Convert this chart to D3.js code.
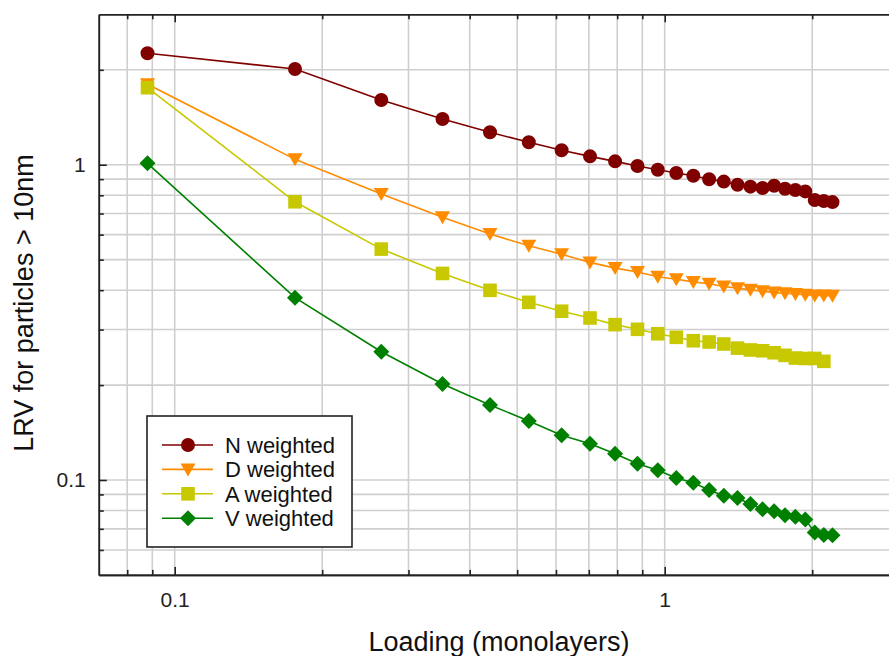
<!DOCTYPE html>
<html><head><meta charset="utf-8">
<script src="https://cdn.jsdelivr.net/npm/d3@7"></script>
<style>body{margin:0;background:#fff}svg{display:block;font-family:"Liberation Sans",Arial,sans-serif}</style>
</head><body><svg id="c" width="889" height="656"></svg>
<script>
const loading = [0.088,0.176,0.264,0.352,0.44,0.528,0.616,0.704,0.792,0.88,0.968,1.056,1.144,1.232,1.32,1.408,1.496,1.584,1.672,1.76,1.848,1.936,2.024,2.112,2.2];
const nWeighted = [2.256,2.012,1.604,1.396,1.267,1.178,1.111,1.063,1.025,0.991,0.964,0.941,0.923,0.899,0.884,0.864,0.852,0.844,0.858,0.839,0.831,0.823,0.773,0.767,0.761];
const dWeighted = [1.80,1.040,0.807,0.681,0.603,0.553,0.520,0.490,0.470,0.457,0.441,0.433,0.425,0.419,0.411,0.406,0.401,0.397,0.393,0.391,0.389,0.387,0.385,0.385,0.384];
const aWeighted = [1.755,0.763,0.540,0.452,0.3995,0.366,0.343,0.3265,0.311,0.3006,0.291,0.2835,0.2765,0.274,0.270,0.262,0.2585,0.257,0.2533,0.2485,0.2437,0.2429,0.243,0.2379];
const vWeighted = [1.010,0.3787,0.2552,0.2016,0.1729,0.1539,0.1386,0.1303,0.1212,0.1126,0.1073,0.1015,0.0980,0.0929,0.0892,0.0877,0.0839,0.0807,0.0796,0.0773,0.0765,0.0750,0.0681,0.0669,0.0668];
const seriesNames = ["N weighted","D weighted","A weighted","V weighted"];
const seriesColors = ["#800000","#ff8c00","#c8c800","#008000"];
const xMajorTicks = [0.1, 1];
const xMinorTicks = [0.08,0.09,0.2,0.3,0.4,0.5,0.6,0.7,0.8,0.9,2];
const yMajorTicks = [0.1, 1];
const yMinorTicks = [0.06,0.07,0.08,0.09,0.2,0.3,0.4,0.5,0.6,0.7,0.8,0.9,2];
const xLabel = "Loading (monolayers)";
const yLabel = "LRV for particles > 10nm";

const svg = d3.select("#c");
const x = d3.scaleLog().domain([0.07, 3]).range([98.8, 898.5]);
const y = d3.scaleLog().domain([0.05, 3]).range([574.9, 14.3]);
const [x0,x1] = x.range(), [y0,y1] = y.range();

// grid
const grid = svg.append("g").attr("stroke","#cfcfcf").attr("stroke-width",1.6);
xMajorTicks.concat(xMinorTicks).forEach(t=>{
  grid.append("line").attr("x1",x(t)).attr("x2",x(t)).attr("y1",y0).attr("y2",y1);
});
yMajorTicks.concat(yMinorTicks).forEach(t=>{
  grid.append("line").attr("y1",y(t)).attr("y2",y(t)).attr("x1",x0).attr("x2",x1);
});

// axes
function styleAxis(g){
  g.attr("font-size",null).attr("font-family",null);
  g.select(".domain").attr("stroke","#222").attr("stroke-width",1.6);
  g.selectAll(".tick line").attr("stroke","#222").attr("stroke-width",1.6);
  g.selectAll(".tick text").style("font-size","21px").attr("fill","#222")
    .style("font-family","'Liberation Sans', Arial, sans-serif"); }
const fmt = d => d>=1 ? d3.format("d")(d) : String(d);
svg.append("g").attr("transform",`translate(0,${y0})`)
  .call(d3.axisBottom(x).tickValues(xMajorTicks).tickSize(-8).tickSizeOuter(0).tickPadding(17).tickFormat(fmt)).call(styleAxis);
svg.append("g").attr("transform",`translate(0,${y0})`)
  .call(d3.axisBottom(x).tickValues(xMinorTicks).tickSize(-5).tickSizeOuter(0).tickFormat("")).call(styleAxis);
svg.append("g").attr("transform",`translate(0,${y1})`)
  .call(d3.axisTop(x).tickValues(xMajorTicks).tickSize(-8).tickSizeOuter(0).tickFormat("")).call(styleAxis);
svg.append("g").attr("transform",`translate(0,${y1})`)
  .call(d3.axisTop(x).tickValues(xMinorTicks).tickSize(-5).tickSizeOuter(0).tickFormat("")).call(styleAxis);
svg.append("g").attr("transform",`translate(${x0},0)`)
  .call(d3.axisLeft(y).tickValues(yMajorTicks).tickSize(-8).tickSizeOuter(0).tickPadding(13).tickFormat(fmt)).call(styleAxis);
svg.append("g").attr("transform",`translate(${x0},0)`)
  .call(d3.axisLeft(y).tickValues(yMinorTicks).tickSize(-5).tickSizeOuter(0).tickFormat("")).call(styleAxis);
svg.append("g").attr("transform",`translate(${x1},0)`)
  .call(d3.axisRight(y).tickValues([]).tickSizeOuter(0)).call(styleAxis);

// axis titles
svg.append("text").attr("x",499).attr("y",651).attr("text-anchor","middle")
  .attr("font-size",27).attr("fill","#111").text(xLabel);
svg.append("text").attr("transform","translate(33,303) rotate(-90)").attr("text-anchor","middle")
  .attr("font-size",27).attr("fill","#111").text(yLabel);

// markers
function markerPath(i){
  if(i===0) return d3.symbol(d3.symbolCircle, 154)();
  if(i===1) return "M-7.5,-6L7.5,-6L0,7Z";
  if(i===2) return "M-6.8,-6.8H6.8V6.8H-6.8Z";
  return "M0,-8L8,0L0,8L-8,0Z";
}
const allSeries = [nWeighted,dWeighted,aWeighted,vWeighted];
const line = d3.line().x(d=>x(d[0])).y(d=>y(d[1]));
allSeries.forEach((vals,i)=>{
  const pts = vals.map((v,j)=>[loading[j],v]);
  const g = svg.append("g");
  g.append("path").attr("d",line(pts)).attr("fill","none").attr("stroke",seriesColors[i]).attr("stroke-width",1.6);
  g.selectAll("path.m").data(pts).join("path").attr("class","m")
    .attr("transform",d=>`translate(${x(d[0])},${y(d[1])})`)
    .attr("d",markerPath(i)).attr("fill",seriesColors[i]);
});

// legend
const lg = svg.append("g");
lg.append("rect").attr("x",147).attr("y",416).attr("width",205).attr("height",131)
  .attr("fill","#fff").attr("stroke","#222").attr("stroke-width",1.6);
seriesNames.forEach((name,i)=>{
  const cy = 445 + i*24.4;
  lg.append("line").attr("x1",162).attr("x2",213).attr("y1",cy).attr("y2",cy)
    .attr("stroke",seriesColors[i]).attr("stroke-width",1.6);
  lg.append("path").attr("transform",`translate(188,${cy})`).attr("d",markerPath(i)).attr("fill",seriesColors[i]);
  lg.append("text").attr("x",225).attr("y",cy+8).attr("font-size",22).attr("fill","#111").text(name);
});
</script></body></html>
